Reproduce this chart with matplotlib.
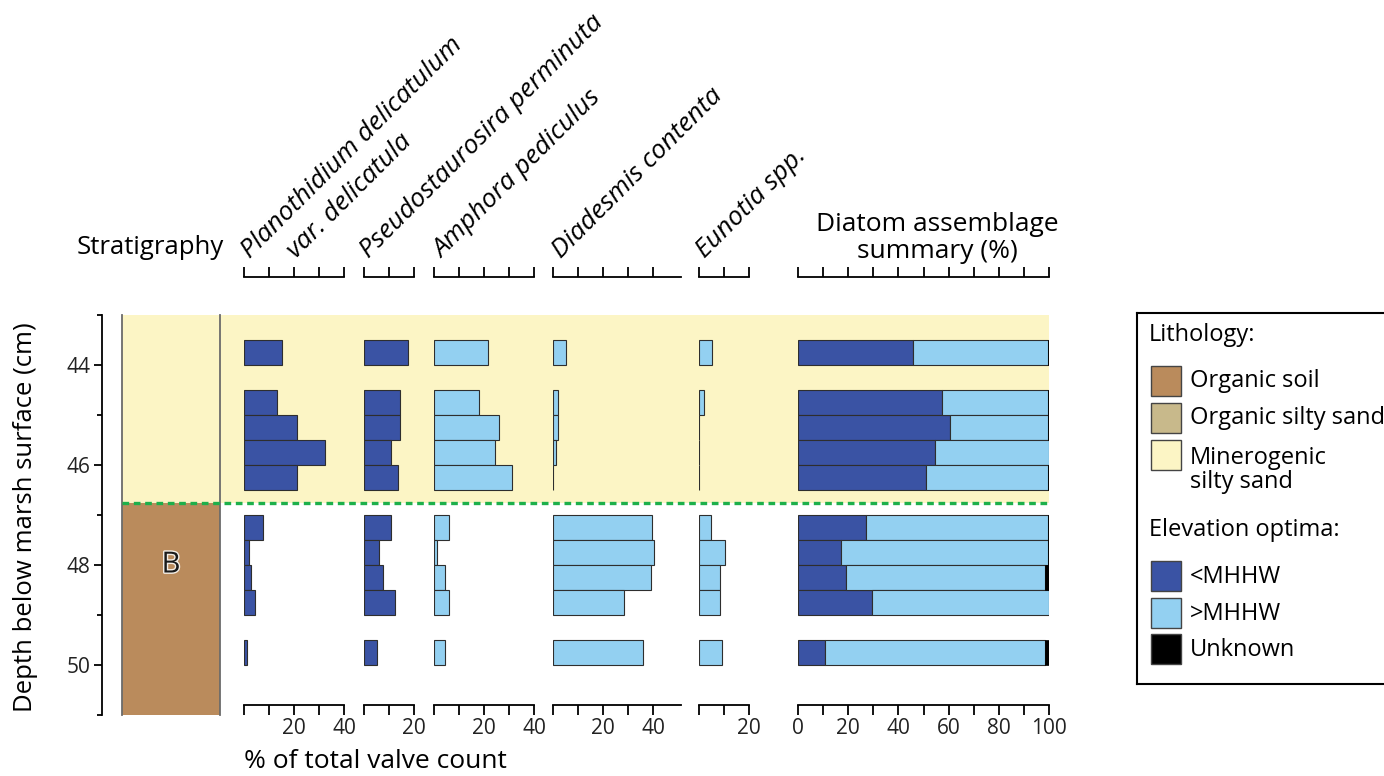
import matplotlib
matplotlib.use("Agg")
import matplotlib.pyplot as plt
import matplotlib.patheffects as pe
from matplotlib.patches import Rectangle

plt.rcParams['font.family'] = ['Open Sans', 'DejaVu Sans']

W, H = 1384, 776

# core slices, top depth of each 0.5 cm sample (cm below marsh surface)
depth_top = [43.5, 44.5, 45.0, 45.5, 46.0, 47.0, 47.5, 48.0, 48.5, 49.5]
slice_cm = 0.5
contact_depth = 46.75
depth_range = (43, 51)

# % of total valve count
planothidium = [15, 13, 21, 32.5, 21, 7.4, 2, 2.6, 4.2, 1.1]
pseudostaurosira = [17.6, 14.5, 14.3, 10.7, 13.4, 10.7, 5.9, 7.6, 12.2, 5]
amphora = [21.7, 18, 26, 24.2, 31, 6, 1.2, 4.4, 6, 4.4]
diadesmis = [5.3, 1.8, 1.8, 1.2, 0, 39.6, 40.5, 39.1, 28.4, 35.8]
eunotia = [5.3, 1.8, 0.15, 0, 0, 4.8, 10.5, 8.5, 8.5, 9.1]

# assemblage summary (%)
below_mhhw = [46, 57.5, 60.4, 54.7, 51.1, 27.2, 17, 19, 29.6, 10.9]
above_mhhw = [53.6, 42.1, 39.2, 45.3, 48.6, 72.5, 82.7, 79.3, 70.4, 87.6]
unknown = [0.4, 0.4, 0.4, 0, 0.3, 0.3, 0.3, 1.7, 0, 1.5]

lith_labels = ['Organic soil', 'Organic silty sand', 'Minerogenic\nsilty sand']
elev_labels = ['<MHHW', '>MHHW', 'Unknown']

DARK = '#3A53A4'
LIGHT = '#93D0F1'
YELLOW = '#FCF5C5'
BROWN = '#BA8B5C'
OSAND = '#C8B98B'
GREEN = '#1DB04B'
EDGE = '#2e2e2e'
lith_colors = [BROWN, OSAND, YELLOW]
elev_colors = [DARK, LIGHT, 'black']


def rect(x0, y0, x1, y1):
    return [x0 / W, 1 - y1 / H, (x1 - x0) / W, (y1 - y0) / H]


def ftext(x, y, s, **kw):
    return fig.text(x / W, 1 - y / H, s, **kw)


fig = plt.figure(figsize=(W / 100, H / 100), dpi=100)

# yellow minerogenic unit behind every column
bg = fig.add_axes(rect(122, 315, 1049, 715), zorder=0)
bg.set_xlim(0, 1)
bg.set_ylim(depth_range[1], depth_range[0])
bg.axhspan(depth_range[0], contact_depth, color=YELLOW, lw=0)
bg.axis('off')

# stratigraphy column + depth axis
st = fig.add_axes(rect(122, 315, 220, 715), zorder=1)
st.patch.set_visible(False)
st.set_xlim(0, 1)
st.set_ylim(depth_range[1], depth_range[0])
st.axhspan(contact_depth, depth_range[1], color=BROWN, lw=0)
st.axvline(0, color='#6b6b6b', lw=1.3, clip_on=False)
st.axvline(1, color='#6b6b6b', lw=1.3, clip_on=False)
st.text(0.5, 48, 'B', ha='center', va='center', fontsize=21, color='#1a1a1a',
        path_effects=[pe.withStroke(linewidth=2, foreground='#f4eee6')])
for s in ['top', 'right', 'bottom']:
    st.spines[s].set_visible(False)
st.spines['left'].set_position(('outward', 14.4))
st.spines['left'].set_linewidth(1.3)
st.set_xticks([])
st.set_yticks([44, 46, 48, 50])
st.set_yticks([43, 45, 47, 49, 51], minor=True)
st.tick_params(axis='y', which='major', length=5.5, width=1.3, labelsize=15, pad=3, labelcolor='#222')
st.tick_params(axis='y', which='minor', length=3.5, width=1.3)

ftext(26, 517, 'Depth below marsh surface (cm)', rotation=90, ha='center', va='center', fontsize=18.5)
ftext(150, 254, 'Stratigraphy', ha='center', va='baseline', fontsize=18.5)

# taxon panels: values, colour, left px, x max, tick labels
panels = [
    (planothidium, DARK, 244, 40, [0, 10, 20, 30, 40], ['', '', '20', '', '40']),
    (pseudostaurosira, DARK, 364, 20, [0, 10, 20], ['', '', '20']),
    (amphora, LIGHT, 434, 40, [0, 10, 20, 30, 40], ['', '', '20', '', '40']),
    (diadesmis, LIGHT, 553, 51, [0, 10, 20, 30, 40], ['', '', '20', '', '40']),
    (eunotia, LIGHT, 699, 20, [0, 10, 20], ['', '', '20']),
]
px_per_pct = 2.5


def style_panel(ax, ticks, labels):
    ax.patch.set_visible(False)
    ax.set_ylim(50.8, depth_range[0])
    ax.spines['left'].set_visible(False)
    ax.spines['right'].set_visible(False)
    ax.spines['top'].set_position(('outward', 27.4))
    for s in ['top', 'bottom']:
        ax.spines[s].set_linewidth(1.3)
    ax.set_yticks([])
    ax.xaxis.set_ticks_position('both')
    ax.set_xticks(ticks)
    ax.set_xticklabels(labels)
    ax.tick_params(axis='x', direction='out', length=7, width=1.3, labelsize=15,
                   pad=2, labeltop=False, labelbottom=True, labelcolor='#222')


for vals, color, x0, xmax, ticks, labels in panels:
    ax = fig.add_axes(rect(x0, 315, x0 + xmax * px_per_pct, 705), zorder=1)
    ax.barh(depth_top, vals, height=slice_cm, align='edge', color=color,
            edgecolor=EDGE, linewidth=0.8)
    ax.set_xlim(0, xmax)
    style_panel(ax, ticks, labels)

# summary panel
sm = fig.add_axes(rect(798, 315, 1049, 705), zorder=1)
sm.barh(depth_top, below_mhhw, height=slice_cm, align='edge', color=DARK,
        edgecolor=EDGE, linewidth=0.8)
sm.barh(depth_top, above_mhhw, left=below_mhhw, height=slice_cm, align='edge',
        color=LIGHT, edgecolor=EDGE, linewidth=0.8)
left3 = [b + a for b, a in zip(below_mhhw, above_mhhw)]
sm.barh(depth_top, unknown, left=left3, height=slice_cm, align='edge',
        color='black', edgecolor='black', linewidth=0.5)
sm.set_xlim(0, 100)
style_panel(sm, list(range(0, 101, 10)),
            [str(v) if v % 20 == 0 else '' for v in range(0, 101, 10)])

# contact line on top
ov = fig.add_axes(rect(122, 315, 1049, 715), zorder=2)
ov.patch.set_visible(False)
ov.set_xlim(0, 1)
ov.set_ylim(depth_range[1], depth_range[0])
ov.axhline(contact_depth, color=GREEN, lw=2.4, ls=(0, (2, 1.4)))
ov.axis('off')

# headers
ital = dict(rotation=45, rotation_mode='anchor', ha='left', va='baseline',
            fontsize=19, style='italic')
ftext(250, 259, 'Planothidium delicatulum', **ital)
ftext(296, 259, 'var. delicatula', **ital)
ftext(369, 259, 'Pseudostaurosira perminuta', **ital)
ftext(442, 259, 'Amphora pediculus', **ital)
ftext(561, 259, 'Diadesmis contenta', **ital)
ftext(705, 259, 'Eunotia spp.', **ital)
ftext(937, 238, 'Diatom assemblage\nsummary (%)', ha='center', va='center',
      fontsize=19, linespacing=1.1)
ftext(244, 762, '% of total valve count', ha='left', va='center', fontsize=19)

# legend box
lg = fig.add_axes(rect(1137, 313, 1400, 684), zorder=3)
lg.set_xlim(1137, 1400)
lg.set_ylim(684, 313)
lg.set_xticks([])
lg.set_yticks([])
for s in lg.spines.values():
    s.set_linewidth(1.5)
lg.text(1149, 335, 'Lithology:', ha='left', va='center', fontsize=17)
for i, (lab, col) in enumerate(zip(lith_labels, lith_colors)):
    top = 366 + 37 * i
    lg.add_patch(Rectangle((1151, top), 30, 30, facecolor=col, edgecolor='#444', lw=1))
    yc = top + 15 if '\n' not in lab else top + 30
    lg.text(1190, yc, lab, ha='left', va='center', fontsize=17, linespacing=1.05)
lg.text(1149, 530, 'Elevation optima:', ha='left', va='center', fontsize=17)
for i, (lab, col) in enumerate(zip(elev_labels, elev_colors)):
    top = 561 + 36.5 * i
    lg.add_patch(Rectangle((1151, top), 30, 30, facecolor=col, edgecolor='#444', lw=1))
    lg.text(1190, top + 16, lab, ha='left', va='center', fontsize=17)

fig.savefig('out.png', dpi=100)
